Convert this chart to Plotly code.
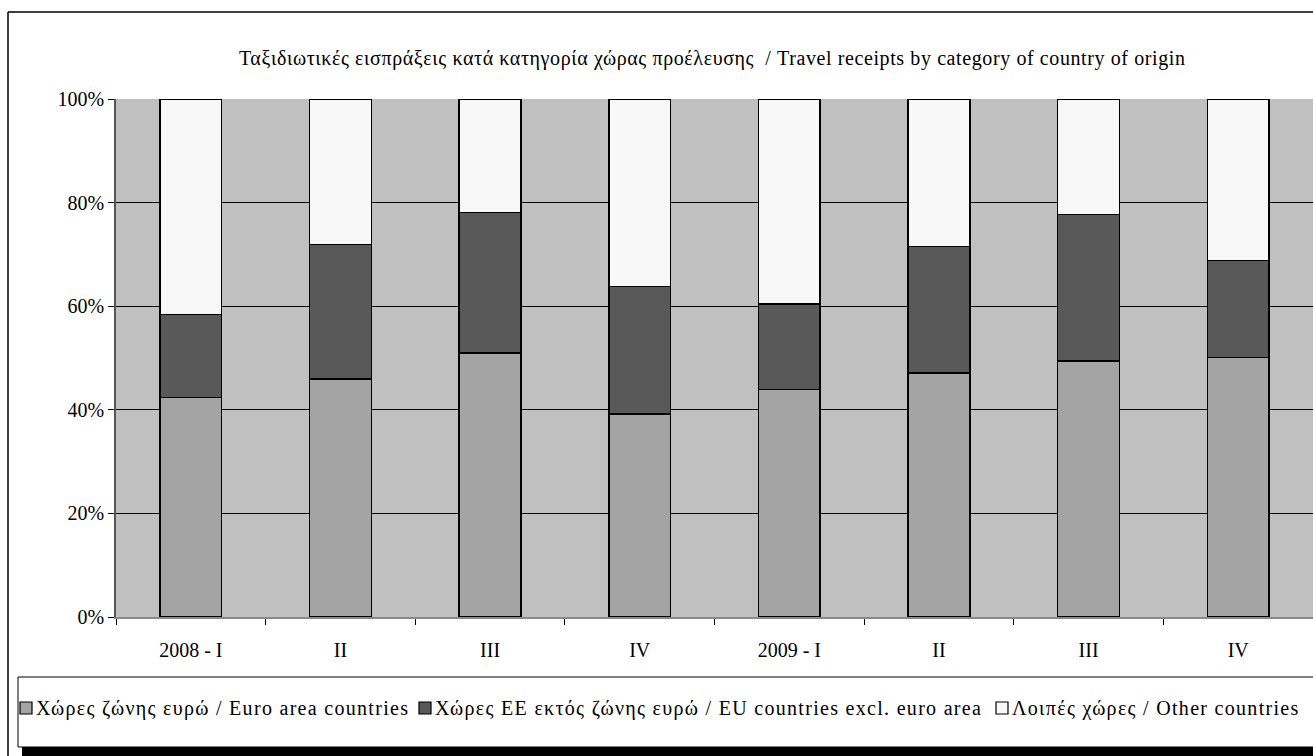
import plotly.graph_objects as go

# quarters
quarters = ["2008 - I", "II", "III", "IV", "2009 - I", "II ", "III ", "IV "]
tick_text = ["2008 - I", "II", "III", "IV", "2009 - I", "II", "III", "IV"]

# shares of travel receipts (%)
euro_area = [42.4, 45.9, 51.0, 39.2, 43.9, 47.1, 49.4, 50.1]
eu_non_euro = [16.0, 26.0, 27.1, 24.6, 16.5, 24.4, 28.3, 18.7]
other = [41.6, 28.1, 21.9, 36.2, 39.6, 28.5, 22.3, 31.2]

y_ticks = [0, 20, 40, 60, 80, 100]
y_tick_text = ["0%", "20%", "40%", "60%", "80%", "100%"]

series_names = [
    "Χώρες ζώνης ευρώ / Euro area countries",
    "Χώρες ΕΕ εκτός ζώνης ευρώ / EU countries excl. euro area",
    "Λοιπές χώρες / Other countries",
]
series_colors = ["#a4a4a4", "#595959", "#f8f8f8"]

title_text = ("Ταξιδιωτικές εισπράξεις κατά κατηγορία χώρας προέλευσης  / "
              "Travel receipts by category of country of origin")

FONT = "Liberation Serif"
W, H = 1313, 756
L, R, T, B = 116, 0, 99, 139
pw, ph = W - L - R, H - T - B


def px(x):
    return (x - L) / pw


def py(y):
    return (H - B - y) / ph


fig = go.Figure()
for name, vals, col in zip(series_names, [euro_area, eu_non_euro, other], series_colors):
    fig.add_trace(go.Bar(
        x=quarters, y=vals, name=name,
        marker=dict(color=col, line=dict(color="black", width=1.5)),
    ))

shapes = [
    # outer frame
    dict(type="line", xref="paper", yref="paper", x0=px(8), x1=px(8), y0=py(12), y1=py(H + 5),
         line=dict(color="black", width=1.5)),
    dict(type="line", xref="paper", yref="paper", x0=px(8), x1=px(W + 5), y0=py(12), y1=py(12),
         line=dict(color="black", width=1.5)),
    # legend box and shadow
    dict(type="rect", xref="paper", yref="paper", x0=px(22), x1=px(W + 10), y0=py(747), y1=py(H + 10),
         fillcolor="black", line=dict(width=0)),
    dict(type="rect", xref="paper", yref="paper", x0=px(18), x1=px(W + 10), y0=py(677), y1=py(747),
         fillcolor="white", line=dict(color="black", width=1)),
]

annotations = [
    dict(text=title_text, xref="paper", yref="paper", x=px(712), y=py(59),
         xanchor="center", yanchor="middle", showarrow=False,
         font=dict(family=FONT, size=20, color="black")),
]

# legend row drawn by hand (markers + labels)
legend_x = [20, 419, 996]
for lx, name, col in zip(legend_x, series_names, series_colors):
    shapes.append(dict(type="rect", xref="paper", yref="paper",
                       x0=px(lx), x1=px(lx + 12), y0=py(702), y1=py(714),
                       fillcolor=col, line=dict(color="black", width=1.2)))
    annotations.append(dict(text=name, xref="paper", yref="paper", x=px(lx + 14), y=py(708),
                            xanchor="left", yanchor="middle", align="left", showarrow=False,
                            font=dict(family=FONT, size=20, color="black")))

fig.update_layout(
    width=W, height=H,
    margin=dict(l=L, r=R, t=T, b=B, pad=0),
    barmode="stack", bargap=0.587,
    showlegend=False,
    paper_bgcolor="white", plot_bgcolor="#c0c0c0",
    font=dict(family=FONT, size=20, color="black"),
    shapes=shapes, annotations=annotations,
    xaxis=dict(
        tickmode="array", tickvals=quarters, ticktext=tick_text,
        tickson="boundaries", ticks="outside", ticklen=6, tickcolor="black", tickwidth=1,
        showline=True, linecolor="#8a8a8a", linewidth=1.5,
        showgrid=False, ticklabelstandoff=14,
        tickfont=dict(family=FONT, size=20),
    ),
    yaxis=dict(
        range=[0, 100], tickmode="array", tickvals=y_ticks, ticktext=y_tick_text,
        ticks="outside", ticklen=6, tickcolor="black", tickwidth=1,
        showline=True, linecolor="#555555", linewidth=1.5,
        showgrid=True, gridcolor="black", gridwidth=1, zeroline=False,
        tickfont=dict(family=FONT, size=20),
    ),
)

# the original text is set a little loose; no margin around the page
post = """
document.body.style.margin = '0';
var gd = document.getElementById('{plot_id}');
function loosen() {
  var ts = gd.querySelectorAll('.annotation-text');
  ts.forEach(function (t, i) { t.style.letterSpacing = (i === 0 ? '0.6px' : '1.3px'); });
}
loosen();
setTimeout(loosen, 0);
gd.on('plotly_afterplot', loosen);
"""

fig.write_html("out.html", post_script=post, config={"displayModeBar": False})
